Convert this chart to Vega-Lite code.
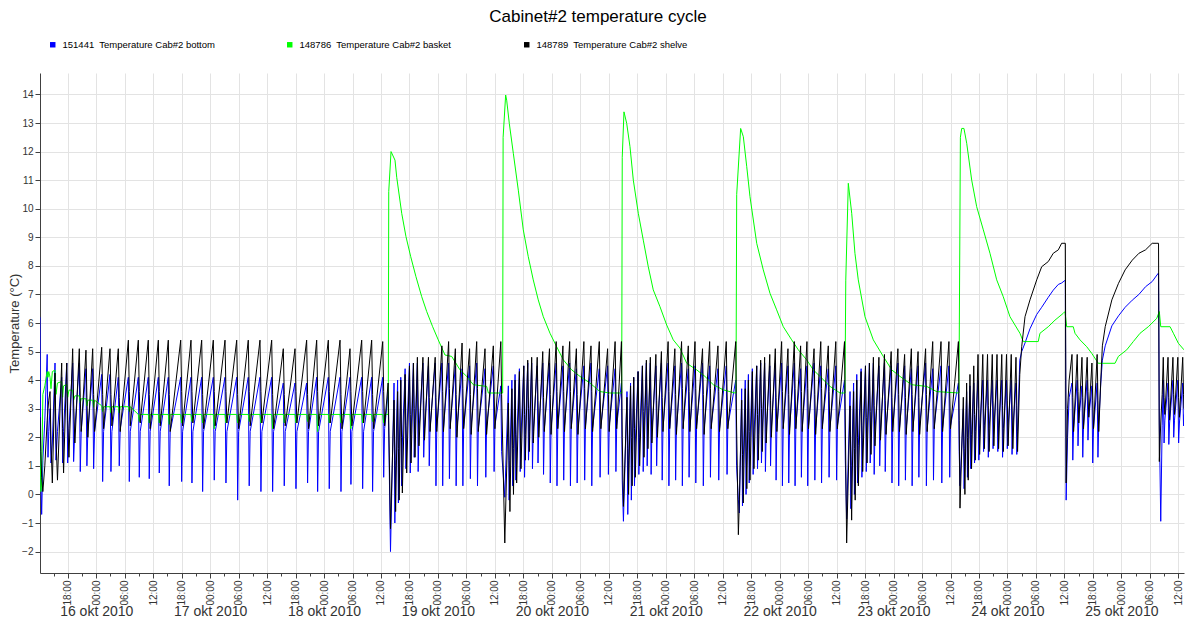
{
"$schema":"https://vega.github.io/schema/vega-lite/v6.json",
"width":1144,"height":500,
"autosize":{"type":"none"},
"padding":{"left":40,"top":73,"right":1,"bottom":49},
"background":"white",
"config":{"view":{"stroke":null}},
"title":{"text":"Cabinet#2 temperature cycle","fontSize":17,"fontWeight":"normal","font":"Liberation Sans","color":"#000000","anchor":"middle","frame":"group","dx":-14,"offset":14},
"data":{"values":[
{"t":"2010-10-15T12:09","b":6.2,"k":2.7,"g":1.8},
{"t":"2010-10-15T12:20","b":0.5,"k":1.5,"g":0.1},
{"t":"2010-10-15T12:30","b":-0.7,"k":0.6,"g":0.4},
{"t":"2010-10-15T12:45","b":1.2,"k":0.1,"g":3.5},
{"t":"2010-10-15T13:10","b":2.6,"k":1.0,"g":3.8},
{"t":"2010-10-15T13:40","b":4.9,"k":2.6,"g":4.3},
{"t":"2010-10-15T13:50","b":1.3,"k":3.0,"g":4.1},
{"t":"2010-10-15T14:00","b":2.2,"k":3.3,"g":4.3},
{"t":"2010-10-15T14:16","b":3.0,"k":3.6,"g":4.1},
{"t":"2010-10-15T14:28","b":1.1,"k":1.8,"g":3.7},
{"t":"2010-10-15T14:45","b":1.8,"k":0.4,"g":4.3},
{"t":"2010-10-15T15:19","b":4.6,"k":4.25,"g":4.35},
{"t":"2010-10-15T15:31","b":1.2,"k":2.0,"g":3.5},
{"t":"2010-10-15T15:50","b":2.2,"k":0.5,"g":3.9},
{"t":"2010-10-15T16:43","b":4.1,"k":4.6,"g":3.95},
{"t":"2010-10-15T16:55","b":1.1,"k":2.3,"g":3.4},
{"t":"2010-10-15T17:07","b":2.2,"k":0.75,"g":3.8},
{"t":"2010-10-15T17:47","b":4.6,"k":4.6,"g":3.85},
{"t":"2010-10-15T17:59","b":1.1,"k":2.6,"g":3.4},
{"t":"2010-10-15T18:15","b":2.3,"k":1.3,"g":3.65},
{"t":"2010-10-15T19:02","b":4.6,"k":5.1,"g":3.65},
{"t":"2010-10-15T19:14","b":1.15,"k":3.2,"g":3.3},
{"t":"2010-10-15T19:30","b":2.3,"k":1.8,"g":3.45},
{"t":"2010-10-15T20:26","b":4.6,"k":5.1,"g":3.45},
{"t":"2010-10-15T20:38","b":0.8,"k":3.4,"g":3.2},
{"t":"2010-10-15T20:50","b":2.2,"k":2.2,"g":3.35},
{"t":"2010-10-15T21:50","b":4.4,"k":5.05,"g":3.35},
{"t":"2010-10-15T22:02","b":1.0,"k":3.4,"g":3.1},
{"t":"2010-10-15T22:14","b":2.2,"k":2.0,"g":3.3},
{"t":"2010-10-15T23:15","b":4.4,"k":5.1,"g":3.3},
{"t":"2010-10-15T23:27","b":0.9,"k":3.5,"g":3.05},
{"t":"2010-10-15T23:39","b":2.2,"k":2.2,"g":3.3},
{"t":"2010-10-16T01:09","b":4.2,"k":5.15,"g":3.1},
{"t":"2010-10-16T01:21","b":0.45,"k":3.5,"g":2.9},
{"t":"2010-10-16T01:33","b":2.2,"k":2.3,"g":3.07},
{"t":"2010-10-16T02:54","b":4.2,"k":5.1,"g":3.07},
{"t":"2010-10-16T03:06","b":0.8,"k":3.5,"g":2.85},
{"t":"2010-10-16T03:18","b":2.2,"k":2.4,"g":3.07},
{"t":"2010-10-16T04:39","b":4.1,"k":5.1,"g":3.07},
{"t":"2010-10-16T04:51","b":1.0,"k":3.4,"g":2.85},
{"t":"2010-10-16T05:03","b":2.3,"k":2.2,"g":3.07},
{"t":"2010-10-16T06:46","b":4.1,"k":5.4,"g":3.07},
{"t":"2010-10-16T06:58","b":0.45,"k":3.6,"g":2.9},
{"t":"2010-10-16T07:10","b":2.2,"k":2.4,"g":3.07},
{"t":"2010-10-16T08:52","b":4.1,"k":5.4,"g":2.8},
{"t":"2010-10-16T09:04","b":0.6,"k":3.6,"g":2.55},
{"t":"2010-10-16T09:16","b":2.2,"k":2.5,"g":2.8},
{"t":"2010-10-16T10:58","b":4.1,"k":5.4,"g":2.8},
{"t":"2010-10-16T11:10","b":0.55,"k":3.5,"g":2.5},
{"t":"2010-10-16T11:22","b":2.2,"k":2.3,"g":2.8},
{"t":"2010-10-16T13:05","b":4.1,"k":5.4,"g":2.8},
{"t":"2010-10-16T13:17","b":0.75,"k":3.6,"g":2.5},
{"t":"2010-10-16T13:29","b":2.2,"k":2.4,"g":2.8},
{"t":"2010-10-16T15:11","b":4.1,"k":5.4,"g":2.8},
{"t":"2010-10-16T15:23","b":0.3,"k":3.5,"g":2.45},
{"t":"2010-10-16T15:35","b":2.2,"k":2.2,"g":2.8},
{"t":"2010-10-16T17:48","b":4.1,"k":5.4,"g":2.8},
{"t":"2010-10-16T18:00","b":0.45,"k":3.6,"g":2.5},
{"t":"2010-10-16T18:12","b":2.2,"k":2.4,"g":2.8},
{"t":"2010-10-16T19:58","b":4.1,"k":5.4,"g":2.8},
{"t":"2010-10-16T20:10","b":0.4,"k":3.6,"g":2.55},
{"t":"2010-10-16T20:22","b":2.2,"k":2.5,"g":2.8},
{"t":"2010-10-16T22:13","b":4.1,"k":5.4,"g":2.8},
{"t":"2010-10-16T22:25","b":0.1,"k":3.5,"g":2.5},
{"t":"2010-10-16T22:37","b":2.2,"k":2.3,"g":2.8},
{"t":"2010-10-17T00:40","b":4.1,"k":5.4,"g":2.8},
{"t":"2010-10-17T00:52","b":0.5,"k":3.6,"g":2.3},
{"t":"2010-10-17T01:04","b":2.2,"k":2.4,"g":2.8},
{"t":"2010-10-17T03:08","b":4.1,"k":5.4,"g":2.8},
{"t":"2010-10-17T03:20","b":0.4,"k":3.6,"g":2.5},
{"t":"2010-10-17T03:32","b":2.2,"k":2.5,"g":2.8},
{"t":"2010-10-17T05:36","b":4.1,"k":5.4,"g":2.8},
{"t":"2010-10-17T05:48","b":-0.2,"k":3.5,"g":2.5},
{"t":"2010-10-17T06:00","b":2.2,"k":2.3,"g":2.8},
{"t":"2010-10-17T08:02","b":4.1,"k":5.4,"g":2.8},
{"t":"2010-10-17T08:14","b":0.3,"k":3.6,"g":2.55},
{"t":"2010-10-17T08:26","b":2.2,"k":2.4,"g":2.8},
{"t":"2010-10-17T10:30","b":4.1,"k":5.4,"g":2.8},
{"t":"2010-10-17T10:42","b":0.1,"k":3.6,"g":2.5},
{"t":"2010-10-17T10:54","b":2.2,"k":2.5,"g":2.8},
{"t":"2010-10-17T12:58","b":4.1,"k":5.4,"g":2.8},
{"t":"2010-10-17T13:10","b":0.1,"k":3.5,"g":2.3},
{"t":"2010-10-17T13:22","b":2.2,"k":2.3,"g":2.8},
{"t":"2010-10-17T15:25","b":3.9,"k":5.1,"g":2.8},
{"t":"2010-10-17T15:37","b":0.3,"k":3.5,"g":2.5},
{"t":"2010-10-17T15:49","b":2.2,"k":2.4,"g":2.8},
{"t":"2010-10-17T17:53","b":3.9,"k":5.1,"g":2.8},
{"t":"2010-10-17T18:05","b":0.2,"k":3.6,"g":2.5},
{"t":"2010-10-17T18:17","b":2.2,"k":2.5,"g":2.8},
{"t":"2010-10-17T20:20","b":3.9,"k":5.4,"g":2.8},
{"t":"2010-10-17T20:32","b":0.4,"k":3.5,"g":2.55},
{"t":"2010-10-17T20:44","b":2.2,"k":2.3,"g":2.8},
{"t":"2010-10-17T22:27","b":4.1,"k":5.4,"g":2.8},
{"t":"2010-10-17T22:39","b":0.1,"k":3.6,"g":2.2},
{"t":"2010-10-17T22:51","b":2.2,"k":2.4,"g":2.8},
{"t":"2010-10-18T00:54","b":4.1,"k":5.4,"g":2.8},
{"t":"2010-10-18T01:06","b":0.2,"k":3.6,"g":2.5},
{"t":"2010-10-18T01:18","b":2.2,"k":2.5,"g":2.8},
{"t":"2010-10-18T03:22","b":4.1,"k":5.4,"g":2.8},
{"t":"2010-10-18T03:34","b":0.1,"k":3.5,"g":2.5},
{"t":"2010-10-18T03:46","b":2.2,"k":2.3,"g":2.8},
{"t":"2010-10-18T05:28","b":4.1,"k":5.1,"g":2.8},
{"t":"2010-10-18T05:40","b":0.35,"k":3.6,"g":2.3},
{"t":"2010-10-18T05:52","b":2.2,"k":2.4,"g":2.8},
{"t":"2010-10-18T07:56","b":4.1,"k":5.4,"g":2.8},
{"t":"2010-10-18T08:08","b":0.2,"k":3.6,"g":2.5},
{"t":"2010-10-18T08:20","b":2.2,"k":2.5,"g":2.8},
{"t":"2010-10-18T10:02","b":4.1,"k":5.4,"g":2.8},
{"t":"2010-10-18T10:14","b":0.1,"k":3.5,"g":2.55},
{"t":"2010-10-18T10:26","b":2.2,"k":2.3,"g":2.8},
{"t":"2010-10-18T12:22","b":4.1,"k":5.35,"g":2.8},
{"t":"2010-10-18T12:34","b":0.6,"k":3.6,"g":2.5},
{"t":"2010-10-18T12:46","b":2.3,"k":2.4,"g":2.8},
{"t":"2010-10-18T13:30","b":3.6,"k":3.9},
{"t":"2010-10-18T14:00","b":-2.0,"k":-1.2},
{"t":"2010-10-18T14:45","b":3.9,"k":3.3},{"t":"2010-10-18T14:55","b":-1.0,"k":1.2},{"t":"2010-10-18T15:05","b":1.0,"k":-0.6},
{"t":"2010-10-18T15:30","b":4.0,"k":3.6},{"t":"2010-10-18T15:40","b":-0.3,"k":1.6},{"t":"2010-10-18T15:50","b":1.5,"k":-0.2},
{"t":"2010-10-18T16:10","b":4.1,"k":4.0},{"t":"2010-10-18T16:20","b":0.3,"k":2.0},{"t":"2010-10-18T16:30","b":1.8,"k":0.05},
{"t":"2010-10-18T17:05","b":4.4,"k":4.2},{"t":"2010-10-18T17:15","b":0.9,"k":2.4},{"t":"2010-10-18T17:25","b":2.0,"k":0.75},
{"t":"2010-10-18T18:00","b":4.6,"k":4.5},{"t":"2010-10-18T18:10","b":0.75,"k":2.8},{"t":"2010-10-18T18:20","b":2.1,"k":1.1},
{"t":"2010-10-18T18:50","b":4.6,"k":4.6},{"t":"2010-10-18T19:00","b":1.3,"k":3.0},{"t":"2010-10-18T19:10","b":2.2,"k":1.3},
{"t":"2010-10-18T19:40","b":4.6,"k":4.8},{"t":"2010-10-18T19:50","b":0.8,"k":3.2},{"t":"2010-10-18T20:00","b":2.2,"k":1.7},
{"t":"2010-10-18T20:50","b":4.6,"k":4.8},{"t":"2010-10-18T21:00","b":1.3,"k":3.3},{"t":"2010-10-18T21:10","b":2.3,"k":1.9},
{"t":"2010-10-18T22:00","b":4.5,"k":4.8},{"t":"2010-10-18T22:10","b":1.0,"k":3.4},{"t":"2010-10-18T22:20","b":2.3,"k":2.2},
{"t":"2010-10-18T23:25","b":4.6,"k":4.8},{"t":"2010-10-18T23:35","b":0.3,"k":3.4},{"t":"2010-10-18T23:45","b":2.3,"k":2.2},
{"t":"2010-10-19T00:50","b":4.6,"k":5.2},{"t":"2010-10-19T01:00","b":0.3,"k":3.6},{"t":"2010-10-19T01:10","b":2.3,"k":2.2},
{"t":"2010-10-19T02:15","b":4.6,"k":5.35},{"t":"2010-10-19T02:25","b":0.55,"k":3.7},{"t":"2010-10-19T02:35","b":2.4,"k":2.3},
{"t":"2010-10-19T03:40","b":4.5,"k":5.1},{"t":"2010-10-19T03:50","b":0.3,"k":3.5},{"t":"2010-10-19T04:00","b":2.3,"k":2.0},
{"t":"2010-10-19T05:05","b":4.4,"k":5.3},{"t":"2010-10-19T05:15","b":0.3,"k":3.7},{"t":"2010-10-19T05:25","b":2.3,"k":2.3},
{"t":"2010-10-19T06:40","b":4.5,"k":5.1},{"t":"2010-10-19T06:50","b":0.55,"k":3.5},{"t":"2010-10-19T07:00","b":2.4,"k":2.1},
{"t":"2010-10-19T08:10","b":4.6,"k":5.35},{"t":"2010-10-19T08:20","b":0.3,"k":3.7},{"t":"2010-10-19T08:30","b":2.3,"k":2.2},
{"t":"2010-10-19T09:55","b":4.4,"k":5.1},{"t":"2010-10-19T10:05","b":0.6,"k":3.5},{"t":"2010-10-19T10:15","b":2.4,"k":2.1},
{"t":"2010-10-19T11:40","b":4.5,"k":5.2},{"t":"2010-10-19T11:50","b":0.8,"k":3.6},{"t":"2010-10-19T12:00","b":2.4,"k":2.3},
{"t":"2010-10-19T13:15","b":3.8,"k":5.35},{"t":"2010-10-19T13:25","b":1.5,"k":3.5},
{"t":"2010-10-19T14:05","b":-0.1,"k":-1.7},
{"t":"2010-10-19T14:50","b":3.8,"k":3.2},{"t":"2010-10-19T15:00","b":-0.2,"k":1.2},{"t":"2010-10-19T15:10","b":1.2,"k":-0.6},
{"t":"2010-10-19T15:35","b":4.0,"k":3.7},{"t":"2010-10-19T15:45","b":0.3,"k":1.7},{"t":"2010-10-19T15:55","b":1.6,"k":0.0},
{"t":"2010-10-19T16:15","b":4.2,"k":4.0},{"t":"2010-10-19T16:25","b":0.5,"k":2.1},{"t":"2010-10-19T16:35","b":1.8,"k":0.4},
{"t":"2010-10-19T17:10","b":4.4,"k":4.3},{"t":"2010-10-19T17:20","b":0.8,"k":2.5},{"t":"2010-10-19T17:30","b":2.0,"k":0.9},
{"t":"2010-10-19T18:05","b":4.5,"k":4.5},{"t":"2010-10-19T18:15","b":0.6,"k":2.8},{"t":"2010-10-19T18:25","b":2.1,"k":1.2},
{"t":"2010-10-19T18:55","b":4.6,"k":4.7},{"t":"2010-10-19T19:05","b":1.2,"k":3.0},{"t":"2010-10-19T19:15","b":2.2,"k":1.5},
{"t":"2010-10-19T19:45","b":4.6,"k":4.8},{"t":"2010-10-19T19:55","b":0.9,"k":3.2},{"t":"2010-10-19T20:05","b":2.2,"k":1.8},
{"t":"2010-10-19T20:55","b":4.5,"k":4.8},{"t":"2010-10-19T21:05","b":1.1,"k":3.3},{"t":"2010-10-19T21:15","b":2.3,"k":2.0},
{"t":"2010-10-19T22:05","b":4.6,"k":5.0},{"t":"2010-10-19T22:15","b":0.7,"k":3.4},{"t":"2010-10-19T22:25","b":2.3,"k":2.2},
{"t":"2010-10-19T23:30","b":4.6,"k":5.1},{"t":"2010-10-19T23:40","b":0.4,"k":3.5},{"t":"2010-10-19T23:50","b":2.3,"k":2.1},
{"t":"2010-10-20T00:55","b":4.6,"k":5.35},{"t":"2010-10-20T01:05","b":0.3,"k":3.6},{"t":"2010-10-20T01:15","b":2.3,"k":2.3},
{"t":"2010-10-20T02:20","b":4.5,"k":5.2},{"t":"2010-10-20T02:30","b":0.5,"k":3.6},{"t":"2010-10-20T02:40","b":2.4,"k":2.2},
{"t":"2010-10-20T03:45","b":4.6,"k":5.35},{"t":"2010-10-20T03:55","b":0.3,"k":3.6},{"t":"2010-10-20T04:05","b":2.3,"k":2.3},
{"t":"2010-10-20T05:10","b":4.4,"k":5.1},{"t":"2010-10-20T05:20","b":0.4,"k":3.5},{"t":"2010-10-20T05:30","b":2.3,"k":2.1},
{"t":"2010-10-20T06:45","b":4.5,"k":5.35},{"t":"2010-10-20T06:55","b":0.5,"k":3.7},{"t":"2010-10-20T07:05","b":2.4,"k":2.3},
{"t":"2010-10-20T08:15","b":4.6,"k":5.2},{"t":"2010-10-20T08:25","b":0.3,"k":3.6},{"t":"2010-10-20T08:35","b":2.3,"k":2.2},
{"t":"2010-10-20T10:00","b":4.4,"k":5.35},{"t":"2010-10-20T10:10","b":0.6,"k":3.6},{"t":"2010-10-20T10:20","b":2.4,"k":2.3},
{"t":"2010-10-20T11:45","b":4.5,"k":5.1},{"t":"2010-10-20T11:55","b":0.7,"k":3.5},{"t":"2010-10-20T12:05","b":2.4,"k":2.2},
{"t":"2010-10-20T13:20","b":4.4,"k":5.35},{"t":"2010-10-20T13:30","b":0.8,"k":3.6},{"t":"2010-10-20T13:40","b":2.4,"k":2.3},
{"t":"2010-10-20T14:40","b":3.9,"k":5.35},{"t":"2010-10-20T14:50","b":0.5,"k":2.0},
{"t":"2010-10-20T15:05","b":-0.94,"k":-0.42},
{"t":"2010-10-20T15:50","b":3.6,"k":3.4},{"t":"2010-10-20T16:00","b":-0.7,"k":1.6},{"t":"2010-10-20T16:10","b":1.2,"k":0.0},
{"t":"2010-10-20T16:35","b":3.9,"k":3.8},{"t":"2010-10-20T16:45","b":-0.2,"k":2.0},{"t":"2010-10-20T16:55","b":1.5,"k":0.3},
{"t":"2010-10-20T17:15","b":4.1,"k":4.1},{"t":"2010-10-20T17:25","b":0.3,"k":2.3},{"t":"2010-10-20T17:35","b":1.8,"k":0.6},
{"t":"2010-10-20T18:10","b":4.3,"k":4.3},{"t":"2010-10-20T18:20","b":0.7,"k":2.6},{"t":"2010-10-20T18:30","b":2.0,"k":1.0},
{"t":"2010-10-20T19:05","b":4.5,"k":4.5},{"t":"2010-10-20T19:15","b":0.8,"k":2.9},{"t":"2010-10-20T19:25","b":2.1,"k":1.3},
{"t":"2010-10-20T19:55","b":4.6,"k":4.7},{"t":"2010-10-20T20:05","b":1.0,"k":3.1},{"t":"2010-10-20T20:15","b":2.2,"k":1.6},
{"t":"2010-10-20T20:45","b":4.6,"k":4.8},{"t":"2010-10-20T20:55","b":0.7,"k":3.2},{"t":"2010-10-20T21:05","b":2.2,"k":1.8},
{"t":"2010-10-20T21:55","b":4.5,"k":4.9},{"t":"2010-10-20T22:05","b":1.0,"k":3.3},{"t":"2010-10-20T22:15","b":2.3,"k":2.0},
{"t":"2010-10-20T23:05","b":4.6,"k":5.0},{"t":"2010-10-20T23:15","b":0.5,"k":3.4},{"t":"2010-10-20T23:25","b":2.3,"k":2.2},
{"t":"2010-10-21T00:30","b":4.6,"k":5.35},{"t":"2010-10-21T00:40","b":0.3,"k":3.6},{"t":"2010-10-21T00:50","b":2.3,"k":2.3},
{"t":"2010-10-21T01:55","b":4.5,"k":5.1},{"t":"2010-10-21T02:05","b":0.5,"k":3.5},{"t":"2010-10-21T02:15","b":2.3,"k":2.1},
{"t":"2010-10-21T03:20","b":4.6,"k":5.35},{"t":"2010-10-21T03:30","b":0.3,"k":3.7},{"t":"2010-10-21T03:40","b":2.4,"k":2.3},
{"t":"2010-10-21T04:45","b":4.4,"k":5.2},{"t":"2010-10-21T04:55","b":0.6,"k":3.6},{"t":"2010-10-21T05:05","b":2.3,"k":2.2},
{"t":"2010-10-21T06:10","b":4.5,"k":5.35},{"t":"2010-10-21T06:20","b":0.4,"k":3.7},{"t":"2010-10-21T06:30","b":2.4,"k":2.3},
{"t":"2010-10-21T07:45","b":4.6,"k":5.1},{"t":"2010-10-21T07:55","b":0.3,"k":3.5},{"t":"2010-10-21T08:05","b":2.3,"k":2.1},
{"t":"2010-10-21T09:15","b":4.5,"k":5.35},{"t":"2010-10-21T09:25","b":0.6,"k":3.7},{"t":"2010-10-21T09:35","b":2.4,"k":2.3},
{"t":"2010-10-21T11:00","b":4.4,"k":5.2},{"t":"2010-10-21T11:10","b":0.5,"k":3.6},{"t":"2010-10-21T11:20","b":2.3,"k":2.2},
{"t":"2010-10-21T12:45","b":4.5,"k":5.35},{"t":"2010-10-21T12:55","b":0.7,"k":3.6},{"t":"2010-10-21T13:05","b":2.4,"k":2.3},
{"t":"2010-10-21T14:45","b":4.0,"k":5.35},{"t":"2010-10-21T14:55","b":1.0,"k":2.5},
{"t":"2010-10-21T15:18","b":-0.19,"k":-1.41},{"t":"2010-10-21T15:30","b":-0.65,"k":-0.3},
{"t":"2010-10-21T16:00","b":3.7,"k":3.3},{"t":"2010-10-21T16:10","b":-0.4,"k":1.4},{"t":"2010-10-21T16:20","b":1.1,"k":-0.3},
{"t":"2010-10-21T16:45","b":4.0,"k":3.7},{"t":"2010-10-21T16:55","b":0.0,"k":1.8},{"t":"2010-10-21T17:05","b":1.5,"k":0.2},
{"t":"2010-10-21T17:25","b":4.2,"k":4.0},{"t":"2010-10-21T17:35","b":0.4,"k":2.2},{"t":"2010-10-21T17:45","b":1.8,"k":0.5},
{"t":"2010-10-21T18:15","b":4.4,"k":4.3},{"t":"2010-10-21T18:25","b":0.7,"k":2.5},{"t":"2010-10-21T18:35","b":2.0,"k":0.9},
{"t":"2010-10-21T19:10","b":4.5,"k":4.5},{"t":"2010-10-21T19:20","b":0.9,"k":2.8},{"t":"2010-10-21T19:30","b":2.1,"k":1.2},
{"t":"2010-10-21T20:00","b":4.6,"k":4.7},{"t":"2010-10-21T20:10","b":1.1,"k":3.0},{"t":"2010-10-21T20:20","b":2.2,"k":1.5},
{"t":"2010-10-21T20:50","b":4.6,"k":4.8},{"t":"2010-10-21T21:00","b":0.8,"k":3.2},{"t":"2010-10-21T21:10","b":2.2,"k":1.8},
{"t":"2010-10-21T21:55","b":4.5,"k":4.9},{"t":"2010-10-21T22:05","b":1.0,"k":3.3},{"t":"2010-10-21T22:15","b":2.3,"k":2.0},
{"t":"2010-10-21T23:05","b":4.6,"k":5.1},{"t":"2010-10-21T23:15","b":0.5,"k":3.4},{"t":"2010-10-21T23:25","b":2.3,"k":2.2},
{"t":"2010-10-22T00:25","b":4.6,"k":5.35},{"t":"2010-10-22T00:35","b":0.3,"k":3.6},{"t":"2010-10-22T00:45","b":2.3,"k":2.3},
{"t":"2010-10-22T01:45","b":4.5,"k":5.1},{"t":"2010-10-22T01:55","b":0.4,"k":3.5},{"t":"2010-10-22T02:05","b":2.3,"k":2.1},
{"t":"2010-10-22T03:05","b":4.6,"k":5.35},{"t":"2010-10-22T03:15","b":0.3,"k":3.7},{"t":"2010-10-22T03:25","b":2.4,"k":2.3},
{"t":"2010-10-22T04:25","b":4.4,"k":5.2},{"t":"2010-10-22T04:35","b":0.6,"k":3.6},{"t":"2010-10-22T04:45","b":2.3,"k":2.2},
{"t":"2010-10-22T05:45","b":4.5,"k":5.35},{"t":"2010-10-22T05:55","b":0.3,"k":3.7},{"t":"2010-10-22T06:05","b":2.4,"k":2.3},
{"t":"2010-10-22T07:15","b":4.6,"k":5.1},{"t":"2010-10-22T07:25","b":0.5,"k":3.5},{"t":"2010-10-22T07:35","b":2.3,"k":2.1},
{"t":"2010-10-22T08:40","b":4.5,"k":5.35},{"t":"2010-10-22T08:50","b":0.4,"k":3.7},{"t":"2010-10-22T09:00","b":2.4,"k":2.3},
{"t":"2010-10-22T10:15","b":4.4,"k":5.2},{"t":"2010-10-22T10:25","b":0.6,"k":3.6},{"t":"2010-10-22T10:35","b":2.3,"k":2.2},
{"t":"2010-10-22T11:50","b":4.5,"k":5.35},{"t":"2010-10-22T12:00","b":0.5,"k":3.6},{"t":"2010-10-22T12:10","b":2.4,"k":2.3},
{"t":"2010-10-22T13:40","b":4.0,"k":5.35},{"t":"2010-10-22T13:50","b":1.2,"k":2.5},
{"t":"2010-10-22T14:07","b":-0.86,"k":-1.7},
{"t":"2010-10-22T14:50","b":3.6,"k":3.1},{"t":"2010-10-22T15:00","b":-0.5,"k":1.0},{"t":"2010-10-22T15:10","b":1.0,"k":-0.9},
{"t":"2010-10-22T15:35","b":3.9,"k":3.6},{"t":"2010-10-22T15:45","b":0.0,"k":1.6},{"t":"2010-10-22T15:55","b":1.4,"k":-0.2},
{"t":"2010-10-22T16:15","b":4.2,"k":4.0},{"t":"2010-10-22T16:25","b":0.4,"k":2.0},{"t":"2010-10-22T16:35","b":1.7,"k":0.3},
{"t":"2010-10-22T17:10","b":4.4,"k":4.3},{"t":"2010-10-22T17:20","b":0.6,"k":2.4},{"t":"2010-10-22T17:30","b":1.9,"k":0.8},
{"t":"2010-10-22T18:05","b":4.5,"k":4.5},{"t":"2010-10-22T18:15","b":0.8,"k":2.7},{"t":"2010-10-22T18:25","b":2.0,"k":1.1},
{"t":"2010-10-22T18:55","b":4.6,"k":4.6},{"t":"2010-10-22T19:05","b":1.1,"k":2.9},{"t":"2010-10-22T19:15","b":2.1,"k":1.4},
{"t":"2010-10-22T19:45","b":4.6,"k":4.8},{"t":"2010-10-22T19:55","b":0.7,"k":3.1},{"t":"2010-10-22T20:05","b":2.2,"k":1.7},
{"t":"2010-10-22T20:55","b":4.5,"k":4.8},{"t":"2010-10-22T21:05","b":1.0,"k":3.2},{"t":"2010-10-22T21:15","b":2.2,"k":1.9},
{"t":"2010-10-22T22:05","b":4.6,"k":4.9},{"t":"2010-10-22T22:15","b":0.8,"k":3.3},{"t":"2010-10-22T22:25","b":2.3,"k":2.1},
{"t":"2010-10-22T23:30","b":4.5,"k":5.0},{"t":"2010-10-22T23:40","b":0.4,"k":3.4},{"t":"2010-10-22T23:50","b":2.3,"k":2.2},
{"t":"2010-10-23T00:55","b":4.6,"k":5.1},{"t":"2010-10-23T01:05","b":0.3,"k":3.5},{"t":"2010-10-23T01:15","b":2.3,"k":2.2},
{"t":"2010-10-23T02:20","b":4.5,"k":4.9},{"t":"2010-10-23T02:30","b":0.5,"k":3.4},{"t":"2010-10-23T02:40","b":2.3,"k":2.1},
{"t":"2010-10-23T03:45","b":4.4,"k":5.1},{"t":"2010-10-23T03:55","b":0.3,"k":3.5},{"t":"2010-10-23T04:05","b":2.3,"k":2.2},
{"t":"2010-10-23T05:10","b":4.5,"k":5.0},{"t":"2010-10-23T05:20","b":0.6,"k":3.4},{"t":"2010-10-23T05:30","b":2.4,"k":2.1},
{"t":"2010-10-23T06:45","b":4.6,"k":5.1},{"t":"2010-10-23T06:55","b":0.3,"k":3.5},{"t":"2010-10-23T07:05","b":2.3,"k":2.2},
{"t":"2010-10-23T08:15","b":4.4,"k":5.35},{"t":"2010-10-23T08:25","b":0.5,"k":3.6},{"t":"2010-10-23T08:35","b":2.4,"k":2.3},
{"t":"2010-10-23T10:00","b":4.5,"k":5.35},{"t":"2010-10-23T10:10","b":0.4,"k":3.6},{"t":"2010-10-23T10:20","b":2.3,"k":2.2},
{"t":"2010-10-23T11:40","b":4.5,"k":5.35},{"t":"2010-10-23T11:50","b":0.6,"k":3.6},{"t":"2010-10-23T12:00","b":2.4,"k":2.3},
{"t":"2010-10-23T13:40","b":3.9,"k":5.35},{"t":"2010-10-23T13:50","b":1.5,"k":2.6},
{"t":"2010-10-23T14:00","b":0.3,"k":-0.48},
{"t":"2010-10-23T14:42","b":3.0,"k":3.4},{"t":"2010-10-23T14:52","b":0.2,"k":1.6},{"t":"2010-10-23T15:02","b":1.5,"k":0.0},
{"t":"2010-10-23T15:24","b":3.6,"k":3.9},{"t":"2010-10-23T15:34","b":0.6,"k":2.0},{"t":"2010-10-23T15:44","b":1.9,"k":0.5},
{"t":"2010-10-23T16:06","b":3.8,"k":4.2},{"t":"2010-10-23T16:16","b":0.9,"k":2.5},{"t":"2010-10-23T16:26","b":2.1,"k":0.9},
{"t":"2010-10-23T16:54","b":3.9,"k":4.5},{"t":"2010-10-23T17:04","b":1.1,"k":2.8},{"t":"2010-10-23T17:14","b":2.2,"k":1.2},
{"t":"2010-10-23T17:48","b":4.0,"k":4.9},{"t":"2010-10-23T17:58","b":1.2,"k":3.0},{"t":"2010-10-23T18:08","b":2.3,"k":1.4},
{"t":"2010-10-23T18:48","b":4.0,"k":4.9},{"t":"2010-10-23T18:58","b":1.5,"k":3.2},{"t":"2010-10-23T19:08","b":2.4,"k":1.6},
{"t":"2010-10-23T19:48","b":4.0,"k":4.9},{"t":"2010-10-23T19:58","b":1.3,"k":3.1},{"t":"2010-10-23T20:08","b":2.3,"k":1.5},
{"t":"2010-10-23T20:48","b":4.0,"k":4.9},{"t":"2010-10-23T20:58","b":1.6,"k":3.3},{"t":"2010-10-23T21:08","b":2.4,"k":1.7},
{"t":"2010-10-23T21:48","b":4.0,"k":4.9},{"t":"2010-10-23T21:58","b":1.5,"k":3.2},{"t":"2010-10-23T22:08","b":2.4,"k":1.6},
{"t":"2010-10-23T22:48","b":4.0,"k":4.9},{"t":"2010-10-23T22:58","b":1.3,"k":3.1},{"t":"2010-10-23T23:08","b":2.3,"k":1.5},
{"t":"2010-10-23T23:48","b":4.0,"k":4.9},{"t":"2010-10-23T23:58","b":1.6,"k":3.3},{"t":"2010-10-24T00:08","b":2.4,"k":1.7},
{"t":"2010-10-24T00:48","b":4.0,"k":4.9},{"t":"2010-10-24T00:58","b":1.4,"k":3.2},{"t":"2010-10-24T01:08","b":2.3,"k":1.6},
{"t":"2010-10-24T01:48","b":3.9,"k":4.8},{"t":"2010-10-24T01:58","b":1.4,"k":3.1},{"t":"2010-10-24T02:08","b":2.2,"k":1.5},
{"t":"2010-10-24T02:36","b":4.7,"k":4.2},
{"t":"2010-10-24T03:00","b":5.0,"k":5.17},
{"t":"2010-10-24T03:42","b":5.3,"k":6.22},
{"t":"2010-10-24T04:45","b":5.8,"k":6.81},
{"t":"2010-10-24T06:10","b":6.3,"k":7.51},
{"t":"2010-10-24T07:13","b":6.55,"k":7.97},
{"t":"2010-10-24T08:36","b":6.9,"k":8.15},
{"t":"2010-10-24T09:39","b":7.15,"k":8.44},
{"t":"2010-10-24T10:43","b":7.35,"k":8.56},
{"t":"2010-10-24T11:25","b":7.4,"k":8.79},
{"t":"2010-10-24T12:12","b":7.5,"k":8.79},
{"t":"2010-10-24T12:22","b":-0.2,"k":0.4},
{"t":"2010-10-24T12:40","b":2.0,"k":3.0},
{"t":"2010-10-24T13:00","b":3.4,"k":4.0},
{"t":"2010-10-24T13:36","b":3.9,"k":4.9},{"t":"2010-10-24T13:46","b":1.2,"k":3.4},{"t":"2010-10-24T13:56","b":2.3,"k":2.2},
{"t":"2010-10-24T14:42","b":4.0,"k":4.9},{"t":"2010-10-24T14:52","b":1.7,"k":3.6},{"t":"2010-10-24T15:02","b":2.6,"k":2.5},
{"t":"2010-10-24T15:42","b":3.8,"k":4.8},{"t":"2010-10-24T15:52","b":1.3,"k":3.4},{"t":"2010-10-24T16:02","b":2.4,"k":2.3},
{"t":"2010-10-24T16:48","b":4.0,"k":4.8},{"t":"2010-10-24T16:58","b":1.9,"k":3.6},{"t":"2010-10-24T17:08","b":2.7,"k":2.7},
{"t":"2010-10-24T17:48","b":3.8,"k":4.6},{"t":"2010-10-24T17:58","b":1.1,"k":3.3},{"t":"2010-10-24T18:08","b":2.3,"k":2.3},
{"t":"2010-10-24T18:54","b":3.9,"k":4.9},{"t":"2010-10-24T19:04","b":1.3,"k":3.3},{"t":"2010-10-24T19:14","b":2.4,"k":2.2},
{"t":"2010-10-24T19:40","b":3.9,"k":4.0},
{"t":"2010-10-24T20:00","b":4.7,"k":5.2},
{"t":"2010-10-24T20:36","b":5.2,"k":5.87},
{"t":"2010-10-24T22:00","b":5.9,"k":6.81},
{"t":"2010-10-24T23:24","b":6.25,"k":7.39},
{"t":"2010-10-25T00:48","b":6.55,"k":7.86},
{"t":"2010-10-25T02:18","b":6.8,"k":8.2},
{"t":"2010-10-25T03:42","b":7.0,"k":8.44},
{"t":"2010-10-25T05:06","b":7.27,"k":8.56},
{"t":"2010-10-25T06:30","b":7.45,"k":8.79},
{"t":"2010-10-25T07:30","b":7.68,"k":8.79},
{"t":"2010-10-25T07:50","b":7.75,"k":8.79},
{"t":"2010-10-25T08:00","b":2.5,"k":1.15},
{"t":"2010-10-25T08:18","b":-0.94,"k":2.5},
{"t":"2010-10-25T08:36","b":2.4,"k":3.5},
{"t":"2010-10-25T08:50","b":4.0,"k":4.8},{"t":"2010-10-25T09:00","b":1.8,"k":3.4},{"t":"2010-10-25T09:10","b":2.6,"k":2.8},
{"t":"2010-10-25T09:50","b":3.9,"k":4.8},{"t":"2010-10-25T10:00","b":1.75,"k":3.4},{"t":"2010-10-25T10:10","b":2.5,"k":2.6},
{"t":"2010-10-25T10:52","b":4.0,"k":4.8},{"t":"2010-10-25T11:02","b":2.0,"k":3.5},{"t":"2010-10-25T11:12","b":2.6,"k":2.8},
{"t":"2010-10-25T11:54","b":4.0,"k":4.8},{"t":"2010-10-25T12:04","b":1.8,"k":3.4},{"t":"2010-10-25T12:14","b":2.5,"k":2.7},
{"t":"2010-10-25T12:56","b":3.9,"k":4.8},{"t":"2010-10-25T13:06","b":2.4,"k":3.5},{"t":"2010-10-25T13:12","b":2.8,"k":3.0},
{"t":"2010-10-18T13:32","g":2.8},{"t":"2010-10-18T13:38","g":10.6},{"t":"2010-10-18T14:07","g":12.0},
{"t":"2010-10-18T14:57","g":11.7},{"t":"2010-10-18T15:19","g":11.1},{"t":"2010-10-18T16:22","g":9.84},
{"t":"2010-10-18T17:16","g":9.02},{"t":"2010-10-18T18:16","g":8.32},{"t":"2010-10-18T19:22","g":7.62},
{"t":"2010-10-18T20:35","g":6.92},{"t":"2010-10-18T21:38","g":6.4},{"t":"2010-10-18T22:53","g":5.87},
{"t":"2010-10-19T00:04","g":5.41},{"t":"2010-10-19T01:29","g":4.88},{"t":"2010-10-19T02:54","g":4.83},
{"t":"2010-10-19T04:39","g":4.36},{"t":"2010-10-19T06:04","g":4.13},{"t":"2010-10-19T07:27","g":3.84},
{"t":"2010-10-19T10:16","g":3.78},{"t":"2010-10-19T10:37","g":3.55},{"t":"2010-10-19T13:38","g":3.55},
{"t":"2010-10-19T13:44","g":12.5},{"t":"2010-10-19T14:16","g":13.98},{"t":"2010-10-19T14:29","g":13.8},
{"t":"2010-10-19T15:02","g":12.99},{"t":"2010-10-19T15:53","g":11.94},{"t":"2010-10-19T16:56","g":10.65},
{"t":"2010-10-19T17:59","g":9.26},{"t":"2010-10-19T19:02","g":8.32},{"t":"2010-10-19T20:05","g":7.51},
{"t":"2010-10-19T21:08","g":6.81},{"t":"2010-10-19T22:12","g":6.22},{"t":"2010-10-19T23:37","g":5.64},
{"t":"2010-10-20T01:01","g":5.17},{"t":"2010-10-20T02:25","g":4.71},{"t":"2010-10-20T04:11","g":4.36},
{"t":"2010-10-20T05:56","g":4.13},{"t":"2010-10-20T08:02","g":3.9},{"t":"2010-10-20T10:08","g":3.6},
{"t":"2010-10-20T12:15","g":3.55},{"t":"2010-10-20T14:43","g":3.55},{"t":"2010-10-20T14:50","g":11.8},
{"t":"2010-10-20T15:12","g":13.39},{"t":"2010-10-20T15:46","g":12.99},{"t":"2010-10-20T16:28","g":12.17},
{"t":"2010-10-20T17:10","g":11.0},{"t":"2010-10-20T18:13","g":9.84},{"t":"2010-10-20T19:16","g":8.9},
{"t":"2010-10-20T20:19","g":7.97},{"t":"2010-10-20T21:22","g":7.16},{"t":"2010-10-20T22:47","g":6.57},
{"t":"2010-10-21T00:12","g":5.93},{"t":"2010-10-21T01:35","g":5.41},{"t":"2010-10-21T03:00","g":5.12},
{"t":"2010-10-21T04:25","g":4.59},{"t":"2010-10-21T06:31","g":4.36},{"t":"2010-10-21T08:16","g":4.13},
{"t":"2010-10-21T10:01","g":3.84},{"t":"2010-10-21T12:07","g":3.66},{"t":"2010-10-21T14:35","g":3.55},
{"t":"2010-10-21T14:48","g":3.55},{"t":"2010-10-21T14:57","g":10.5},{"t":"2010-10-21T15:47","g":12.81},
{"t":"2010-10-21T16:21","g":12.52},{"t":"2010-10-21T17:04","g":11.47},{"t":"2010-10-21T17:45","g":10.42},
{"t":"2010-10-21T19:10","g":8.79},{"t":"2010-10-21T20:33","g":7.86},{"t":"2010-10-21T21:58","g":7.04},
{"t":"2010-10-21T23:22","g":6.46},{"t":"2010-10-22T00:46","g":5.87},{"t":"2010-10-22T02:32","g":5.41},
{"t":"2010-10-22T03:56","g":5.06},{"t":"2010-10-22T05:42","g":4.71},{"t":"2010-10-22T07:05","g":4.36},
{"t":"2010-10-22T08:30","g":4.13},{"t":"2010-10-22T10:37","g":3.78},{"t":"2010-10-22T12:43","g":3.55},
{"t":"2010-10-22T13:46","g":3.55},{"t":"2010-10-22T13:56","g":7.5},{"t":"2010-10-22T14:28","g":10.89},
{"t":"2010-10-22T15:11","g":9.84},{"t":"2010-10-22T15:52","g":8.44},{"t":"2010-10-22T16:34","g":7.51},
{"t":"2010-10-22T17:59","g":6.22},{"t":"2010-10-22T19:44","g":5.41},{"t":"2010-10-22T21:50","g":4.83},
{"t":"2010-10-22T23:37","g":4.36},{"t":"2010-10-23T01:22","g":4.13},{"t":"2010-10-23T03:49","g":3.84},
{"t":"2010-10-23T06:59","g":3.78},{"t":"2010-10-23T09:05","g":3.6},{"t":"2010-10-23T13:47","g":3.55},
{"t":"2010-10-23T14:05","g":12.5},{"t":"2010-10-23T14:22","g":12.81},{"t":"2010-10-23T14:50","g":12.81},
{"t":"2010-10-23T15:25","g":12.29},{"t":"2010-10-23T16:28","g":11.0},{"t":"2010-10-23T17:31","g":10.07},
{"t":"2010-10-23T18:55","g":9.26},{"t":"2010-10-23T20:19","g":8.44},{"t":"2010-10-23T21:44","g":7.51},
{"t":"2010-10-23T23:07","g":6.92},{"t":"2010-10-24T00:32","g":6.22},{"t":"2010-10-24T02:38","g":5.64},
{"t":"2010-10-24T03:20","g":5.35},{"t":"2010-10-24T06:29","g":5.35},{"t":"2010-10-24T06:51","g":5.64},
{"t":"2010-10-24T08:36","g":5.87},{"t":"2010-10-24T10:01","g":6.1},{"t":"2010-10-24T11:46","g":6.34},
{"t":"2010-10-24T12:07","g":6.4},{"t":"2010-10-24T12:29","g":5.87},{"t":"2010-10-24T13:52","g":5.87},
{"t":"2010-10-24T14:14","g":5.64},{"t":"2010-10-24T15:17","g":5.41},{"t":"2010-10-24T16:42","g":5.17},
{"t":"2010-10-24T17:45","g":4.94},{"t":"2010-10-24T19:08","g":4.59},{"t":"2010-10-24T22:40","g":4.59},
{"t":"2010-10-24T23:22","g":4.83},{"t":"2010-10-25T01:08","g":5.06},{"t":"2010-10-25T02:31","g":5.35},
{"t":"2010-10-25T03:56","g":5.64},{"t":"2010-10-25T05:41","g":5.87},{"t":"2010-10-25T07:27","g":6.16},
{"t":"2010-10-25T08:00","g":6.4},{"t":"2010-10-25T08:18","g":5.87},{"t":"2010-10-25T10:16","g":5.87},
{"t":"2010-10-25T10:58","g":5.64},{"t":"2010-10-25T12:01","g":5.29},{"t":"2010-10-25T13:12","g":5.06}
]},
"layer":[
{"transform":[{"filter":{"field":"b","valid":true}}],
 "mark":{"type":"line","strokeWidth":1,"clip":true},
 "encoding":{
  "x":{"field":"t","type":"temporal",
   "axis":{"orient":"bottom","title":null,"tickCount":40,"format":"%H:%M","labelAngle":-90,"labelFontSize":10,"labelFont":"Liberation Sans","labelColor":"#333333","labelPadding":2,"labelOverlap":false,"labelFlush":false,"grid":true,"gridColor":"#e3e3e3","tickSize":5,"tickColor":"#404040","domainColor":"#404040"}},
  "y":{"field":"b","type":"quantitative","scale":{"domain":[-2.75,14.75],"nice":false,"zero":false},
   "axis":{"values":[-2,-1,0,1,2,3,4,5,6,7,8,9,10,11,12,13,14],"format":"d","labelOverlap":false,"grid":true,"gridColor":"#e3e3e3","tickSize":5,"tickColor":"#404040","domainColor":"#404040","labelFontSize":10,"labelFont":"Liberation Sans","labelColor":"#333333","labelPadding":2,"title":"Temperature (°C)","titleFont":"Liberation Sans","titleFontSize":13,"titleFontWeight":"normal","titleColor":"#333333","titlePadding":0}},
  "color":{"datum":"151441\u00a0 Temperature Cab#2 bottom","type":"nominal",
   "scale":{"domain":["151441\u00a0 Temperature Cab#2 bottom","148786\u00a0 Temperature Cab#2 basket","148789\u00a0 Temperature Cab#2 shelve"],"range":["#0000ff","#00ff00","#000000"]},
   "legend":{"orient":"none","legendX":8,"legendY":-33,"direction":"horizontal","title":null,"padding":0,"symbolType":"square","symbolSize":6,"symbolStrokeWidth":3,"labelFontSize":9.5,"labelFont":"Liberation Sans","labelColor":"#000000","labelLimit":300,"columnPadding":66,"gridAlign":"all","labelOffset":5}}
 }},
{"transform":[{"filter":{"field":"g","valid":true}}],
 "mark":{"type":"line","strokeWidth":1,"clip":true},
 "encoding":{
  "x":{"field":"t","type":"temporal",
   "axis":{"orient":"bottom","title":null,"tickCount":10,"labelExpr":"timeFormat(datum.value, '%-d') + ' okt 2010'","labelFontSize":14,"labelFont":"Liberation Sans","labelColor":"#333333","labelAngle":0,"labelBaseline":"top","labelPadding":31,"labelOverlap":false,"labelFlush":false,"ticks":false,"domain":false,"grid":false}},
  "y":{"field":"g","type":"quantitative","scale":{"domain":[-2.75,14.75],"nice":false,"zero":false},
   "axis":{"values":[-2,-1,0,1,2,3,4,5,6,7,8,9,10,11,12,13,14],"format":"d","labelOverlap":false,"grid":true,"gridColor":"#e3e3e3","tickSize":5,"tickColor":"#404040","domainColor":"#404040","labelFontSize":10,"labelFont":"Liberation Sans","labelColor":"#333333","labelPadding":2,"title":"Temperature (°C)","titleFont":"Liberation Sans","titleFontSize":13,"titleFontWeight":"normal","titleColor":"#333333","titlePadding":0}},
  "color":{"datum":"148786\u00a0 Temperature Cab#2 basket","type":"nominal"}
 }},
{"transform":[{"filter":{"field":"k","valid":true}}],
 "mark":{"type":"line","strokeWidth":1,"clip":true},
 "encoding":{
  "x":{"field":"t","type":"temporal",
   "axis":{"orient":"bottom","title":null,"tickCount":80,"labels":false,"domain":false,"grid":false,"tickSize":3,"tickColor":"#404040"}},
  "y":{"field":"k","type":"quantitative","scale":{"domain":[-2.75,14.75],"nice":false,"zero":false},
   "axis":{"values":[-2,-1,0,1,2,3,4,5,6,7,8,9,10,11,12,13,14],"format":"d","labelOverlap":false,"grid":true,"gridColor":"#e3e3e3","tickSize":5,"tickColor":"#404040","domainColor":"#404040","labelFontSize":10,"labelFont":"Liberation Sans","labelColor":"#333333","labelPadding":2,"title":"Temperature (°C)","titleFont":"Liberation Sans","titleFontSize":13,"titleFontWeight":"normal","titleColor":"#333333","titlePadding":0}},
  "color":{"datum":"148789\u00a0 Temperature Cab#2 shelve","type":"nominal"}
 }}
],
"resolve":{"axis":{"x":"independent"}}
}
